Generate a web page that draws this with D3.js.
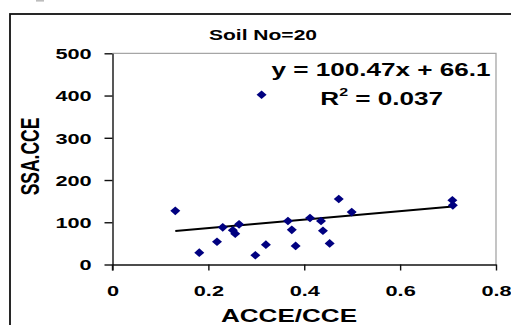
<!DOCTYPE html>
<html>
<head>
<meta charset="utf-8">
<script src="https://cdn.jsdelivr.net/npm/d3@7"></script>
<style>
  html, body { margin: 0; padding: 0; background: #fff; }
  svg { display: block; }
  text { font-family: Arial, "Liberation Sans", sans-serif; font-weight: bold; fill: #000; }
</style>
</head>
<body>
<svg id="chart" width="511" height="325"></svg>
<script>
// ---- data ----
const xValues = [0.131, 0.181, 0.218, 0.230, 0.251, 0.256, 0.264, 0.311, 0.298, 0.320, 0.366,
                 0.374, 0.382, 0.412, 0.435, 0.439, 0.453, 0.472, 0.499, 0.709, 0.710];
const yValues = [127, 28, 54, 88, 81, 73, 95, 402, 22, 47, 103,
                 82, 44, 110, 103, 80, 50, 155, 124, 152, 140];
const xTicks = [0, 0.2, 0.4, 0.6, 0.8];
const yTicks = [0, 100, 200, 300, 400, 500];
const xTickLabels = ["0", "0.2", "0.4", "0.6", "0.8"];
const yTickLabels = ["0", "100", "200", "300", "400", "500"];
const slope = 100.47;
const intercept = 66.1;
const titleText = "Soil No=20";
const xTitle = "ACCE/CCE";
const yTitle = "SSA.CCE";
const eqText = "y = 100.47x + 66.1";
const r2Value = "0.037";

// ---- layout ----
const SX = 1.45; // horizontal stretch of the text in the picture
const svg = d3.select("#chart");
const x = d3.scaleLinear().domain([0, 0.8]).range([112.5, 496]);
const y = d3.scaleLinear().domain([0, 500]).range([264.5, 53.3]);

// stray grey mark at top-left
svg.append("rect").attr("x", 36).attr("y", 0).attr("width", 8).attr("height", 1.6).attr("fill", "#bdbdbd");

// outer chart border (runs past the right/bottom edges)
svg.append("rect").attr("x", 10).attr("y", 14).attr("width", 700).attr("height", 500)
  .attr("fill", "none").attr("stroke", "#111").attr("stroke-width", 1.8);

// plot area border (grey, top and right)
svg.append("path")
  .attr("d", `M${x(0)},${y(500)}H${x(0.8)}V${y(0)}`)
  .attr("fill", "none").attr("stroke", "#a6a6a6").attr("stroke-width", 1.3);

// axes
const gx = svg.append("g").attr("transform", `translate(0,${y(0)})`)
  .call(d3.axisBottom(x).tickValues(xTicks).tickSize(6).tickSizeOuter(0)
        .tickFormat((d, i) => xTickLabels[i]));
const gy = svg.append("g").attr("transform", `translate(${x(0)},0)`)
  .call(d3.axisLeft(y).tickValues(yTicks).tickSize(8).tickSizeOuter(0)
        .tickFormat((d, i) => yTickLabels[i]));

[gx, gy].forEach(g => {
  g.select(".domain").attr("stroke", "#111").attr("stroke-width", 1.4);
  g.selectAll(".tick line").attr("stroke", "#111").attr("stroke-width", 1.4);
  g.selectAll("text").attr("font-size", 15).attr("font-weight", "bold")
    .attr("font-family", "Arial, 'Liberation Sans', sans-serif").attr("fill", "#000");
});
gx.selectAll("text").attr("y", 31.5).attr("dy", 0).attr("transform", `scale(${SX},1)`);
gy.selectAll("text").attr("x", -20.8 / SX).attr("dy", "0.36em").attr("transform", `scale(${SX},1)`);
// y-axis line continues slightly below the x-axis
svg.append("line").attr("x1", x(0)).attr("x2", x(0)).attr("y1", y(0)).attr("y2", y(0) + 6)
  .attr("stroke", "#111").attr("stroke-width", 1.4);

// helper for horizontally stretched text
function stretchedText(cx, by, str, size) {
  return svg.append("text")
    .attr("transform", `translate(${cx},${by}) scale(${SX},1)`)
    .attr("text-anchor", "middle").attr("font-size", size).text(str);
}

// title and axis titles
stretchedText(263, 40, titleText, 14.5);
stretchedText(289, 321.5, xTitle, 18);
svg.append("text")
  .attr("transform", `translate(38.5,156.5) scale(${SX},1) rotate(-90)`)
  .attr("text-anchor", "middle").attr("font-size", 17.5).text(yTitle);

// trend line
const xMin = d3.min(xValues), xMax = d3.max(xValues);
svg.append("line")
  .attr("x1", x(xMin)).attr("y1", y(slope * xMin + intercept))
  .attr("x2", x(xMax)).attr("y2", y(slope * xMax + intercept))
  .attr("stroke", "#000").attr("stroke-width", 2);

// points (diamonds)
const hw = 5, hh = 4.3;
svg.append("g").selectAll("path").data(xValues.map((d, i) => [d, yValues[i]])).join("path")
  .attr("d", d => {
    const px = x(d[0]), py = y(d[1]);
    return `M${px},${py - hh}L${px + hw},${py}L${px},${py + hh}L${px - hw},${py}Z`;
  })
  .attr("fill", "#000080");

// regression equation
stretchedText(381, 75.5, eqText, 18);
const r2 = svg.append("text")
  .attr("transform", `translate(381.7,105) scale(${SX},1)`)
  .attr("text-anchor", "middle").attr("font-size", 18);
r2.append("tspan").text("R");
r2.append("tspan").attr("font-size", 11).attr("dy", -9).text("2");
r2.append("tspan").attr("dy", 9).text(" = " + r2Value);
</script>
</body>
</html>
